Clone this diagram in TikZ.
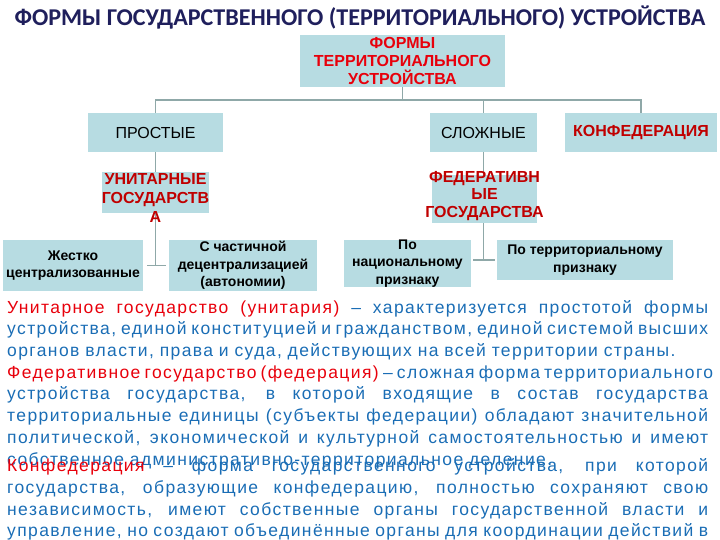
\documentclass[tikz,border=0pt]{standalone}
\usepackage{fontspec}
\setmainfont{Liberation Sans}
\newfontfamily\titlefont{Carlito}
\newfontfamily\parafont[LetterSpace=8]{Liberation Sans}
\usetikzlibrary{backgrounds}

\definecolor{boxfill}{HTML}{B7DCE2}
\definecolor{linegrey}{HTML}{8FA8A8}
\definecolor{navy}{HTML}{1F1F5C}
\definecolor{brightred}{HTML}{E8000B}
\definecolor{darkred}{HTML}{C00000}
\definecolor{textblue}{HTML}{1A6DB5}

% one justified line of the description text
\newcommand\fline[1]{\makebox[701pt][s]{\spaceskip=0pt\xspaceskip=0pt #1}}

\begin{document}
\begin{tikzpicture}[x=1pt,y=-1pt,
  box/.style={fill=boxfill,inner sep=0pt,align=center},
  conn/.style={draw=linegrey,line width=1.5pt},
  redhead/.style={font=\fontsize{16}{19}\selectfont\bfseries,text=darkred,align=center,inner sep=0pt},
  kind/.style={box,font=\fontsize{16}{18}\selectfont},
  sub/.style={box,font=\fontsize{14}{17.5}\selectfont\bfseries},
  para/.style={anchor=base west,inner sep=0pt,text width=701pt,align=left,
    font=\fontsize{17.5}{21.8}\selectfont\parafont,text=textblue}]
\useasboundingbox (0,0) rectangle (720,540);

\node[font=\fontsize{24.1}{27}\selectfont\titlefont\bfseries,text=navy] (title) at (360,18)
  {ФОРМЫ ГОСУДАРСТВЕННОГО (ТЕРРИТОРИАЛЬНОГО) УСТРОЙСТВА};

\node[box,minimum width=205,minimum height=52,text=brightred,
  font=\fontsize{16}{18}\selectfont\bfseries] (forms) at (402.5,61)
  {ФОРМЫ\\ТЕРРИТОРИАЛЬНОГО\\УСТРОЙСТВА};

\node[kind,minimum width=135,minimum height=39] (simple)  at (155.5,132.5) {ПРОСТЫЕ};
\node[kind,minimum width=107,minimum height=39] (complex) at (483.5,132.5) {СЛОЖНЫЕ};
\node[box,minimum width=152,minimum height=39,text=darkred,
  font=\fontsize{16}{18}\selectfont\bfseries] (confed) at (641,132.5) {КОНФЕДЕРАЦИЯ};

\node[box,minimum width=107,minimum height=41] (unitary) at (155.5,192.5) {};
\node[redhead] (unitary-t) at (155.5,197.5) {УНИТАРНЫЕ\\ГОСУДАРСТВ\\А};
\node[box,minimum width=105,minimum height=48] (federal) at (484.5,199) {};
\node[redhead,font=\fontsize{16}{17.5}\selectfont\bfseries] (federal-t) at (484.5,196) {ФЕДЕРАТИВН\\ЫЕ\\ГОСУДАРСТВА};

\node[sub,minimum width=140,minimum height=51] (rigid)   at (73,265.5)  {Жестко\\централизованные};
\node[sub,minimum width=148,minimum height=51] (partial) at (243,265.5) {С частичной\\децентрализацией\\(автономии)};
\node[sub,minimum width=127,minimum height=47] (nation)  at (407.5,263.5) {По\\национальному\\признаку};
\node[sub,minimum width=176,minimum height=40] (terr)    at (585,260) {По территориальному\\признаку};

\begin{scope}[on background layer]
  \draw[conn] (forms.south) -- ++(0,13) coordinate (bus);
  \draw[conn] (simple.north) -- (simple.north |- bus) -| (confed.north);
  \draw[conn] (complex.north) -- (complex.north |- bus);
  \draw[conn] (simple.south) -- (simple.south |- rigid.east);
  \draw[conn,shorten <=4pt,shorten >=3pt] (rigid.east) -- (partial.west);
  \draw[conn] (complex.south) -- (complex.south |- terr.west);
  \draw[conn,shorten <=2pt,shorten >=2pt] (nation.east |- terr.west) -- (terr.west);
\end{scope}

\node[para] (p-unit) at (7,313) {%
  \fline{{\color{brightred}Унитарное государство (унитария)} – характеризуется простотой формы}\\
  \fline{устройства, единой конституцией и гражданством, единой системой высших}\\
  органов власти, права и суда, действующих на всей территории страны.};
\node[para] (p-fed) at (7,378) {%
  \fline{{\color{brightred}Федеративное государство (федерация)} – сложная форма территориального}\\
  \fline{устройства государства, в которой входящие в состав государства}\\
  \fline{территориальные единицы (субъекты федерации) обладают значительной}\\
  \fline{политической, экономической и культурной самостоятельностью и имеют}\\
  собственное административно-территориальное деление.};
\node[para] (p-conf) at (7,471.5) {%
  \fline{{\color{brightred}Конфедерация} – форма государственного устройства, при которой}\\
  \fline{государства, образующие конфедерацию, полностью сохраняют свою}\\
  \fline{независимость, имеют собственные органы государственной власти и}\\
  \fline{управление, но создают объединённые органы для координации действий в}};
\end{tikzpicture}
\end{document}
